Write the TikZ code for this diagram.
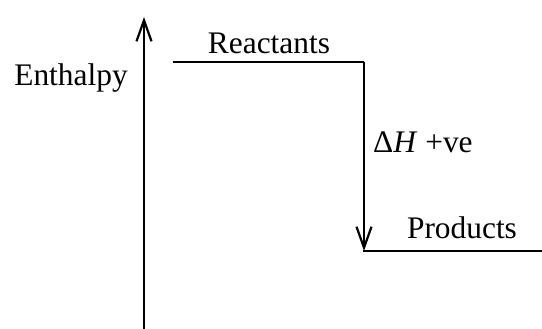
\documentclass[tikz,border=0pt]{standalone}
\usepackage{fontspec}
\setmainfont{Liberation Serif}
\usetikzlibrary{arrows.meta}
\tikzset{
  x=1pt, y=-1pt,
  lvl/.style={line width=2.2pt},
  arr/.style={line width=2.2pt, -{Straight Barb[length=21pt,width=15pt,line width=2.2pt]}},
  lbl/.style={inner sep=0pt, font=\fontsize{31.4}{36}\selectfont}
}
\begin{document}
\begin{tikzpicture}
\useasboundingbox (0,0) rectangle (542,329);
% axis
\coordinate (ab) at (144,329);
\coordinate (at) at (144,17);
\draw[arr] (ab) -- (at);
% levels
\coordinate (r1) at (173,62);
\coordinate (r2) at (364,62);
\coordinate (p1) at (364,251);
\coordinate (p2) at (542,251);
\draw[lvl] (r1) -- (r2);
\draw[arr] (r2) -- (p1);
\draw[lvl] ([xshift=-1.1pt]p1) -- (p2);
% labels
\node[lbl, anchor=base] (enth) at (71,86) {Enthalpy};
\node[lbl, anchor=base] (reac) at (269,54) {Reactants};
\node[lbl, anchor=base] (prod) at (462,239) {Products};
\node[lbl, anchor=base west] (dh) at (373,153) {Δ\textit{H} +ve};
\end{tikzpicture}
\end{document}
